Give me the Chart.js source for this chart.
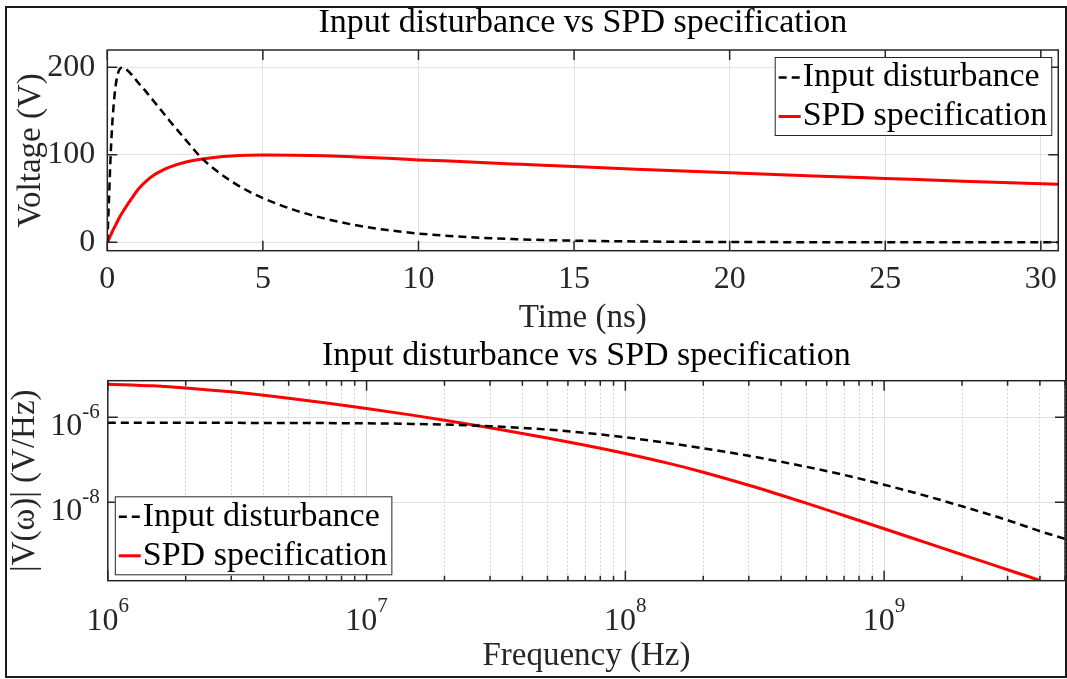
<!DOCTYPE html>
<html>
<head>
<meta charset="utf-8">
<script src="https://cdn.jsdelivr.net/npm/chart.js@4.4.1/dist/chart.umd.min.js"></script>
<style>
  html, body { margin: 0; padding: 0; background: #fff; }
  #fig { position: relative; width: 1067px; height: 679px; overflow: hidden; }
  #frame { position: absolute; left: 5px; top: 6px; width: 1058px; height: 668px; border: 2px solid #1a1a1a; }
  .pane { position: absolute; left: 0; width: 1067px; }
</style>
</head>
<body>
<div id="fig">
  <div id="frame"></div>
  <div class="pane" style="top:0;height:335px"><canvas id="timeChart"></canvas></div>
  <div class="pane" style="top:332px;height:347px"><canvas id="freqChart"></canvas></div>
</div>
<script>
// ---- data ----
var seriesNames = ["Input disturbance", "SPD specification"];
var chartTitle = "Input disturbance vs SPD specification";

// time domain (ns, V)
var timeNs = [0, 0.05, 0.1, 0.15, 0.2, 0.25, 0.3, 0.35, 0.4, 0.5, 0.6, 0.8, 1, 1.25, 1.5, 1.75, 2, 2.5, 3, 3.5, 4, 4.5, 5,
  6, 7, 8, 9, 10, 11, 12, 13, 14, 15, 17, 20, 22.5, 25, 27.5, 30.56];
var inputTimeV = [0, 45, 93, 130, 155, 174, 186, 194, 198, 200, 198, 191, 182, 172, 161, 150, 139, 118, 97.5, 82, 69.5, 59, 50.5,
  37, 27, 19.5, 14, 10, 7.2, 5.1, 3.7, 2.6, 1.9, 1.0, 0.35, 0.15, 0.07, 0.04, 0.02];
var spdTimeV = [0, 3.5, 7.5, 11.5, 15, 18.5, 22, 25.5, 29, 35, 40.5, 51, 61, 70, 77, 82, 86, 91.5, 95, 97.3, 98.7, 99.5, 99.8,
  99.6, 98.8, 97.5, 96, 94.2, 92.8, 91.2, 89.6, 88, 86.5, 83.6, 79.5, 76.2, 73, 69.8, 66.3];
var timeTicks = [0, 5, 10, 15, 20, 25, 30];
var voltTicks = [0, 100, 200];

// frequency domain (Hz, V/Hz)
var freqHz = [1e6, 1.5e6, 2e6, 3e6, 5e6, 7e6, 1e7, 1.5e7, 2e7, 3e7, 5e7, 7e7, 1e8, 1.5e8, 2e8, 3e8, 5e8, 7e8,
  1e9, 1.5e9, 2e9, 3e9, 4e9, 5e9];
var inputFreqV = [7.46e-7, 7.45e-7, 7.43e-7, 7.4e-7, 7.35e-7, 7.3e-7, 7.21e-7, 7.0e-7, 6.76e-7, 6.19e-7, 5.14e-7, 4.31e-7,
  3.38e-7, 2.43e-7, 1.87e-7, 1.24e-7, 6.85e-8, 4.4e-8, 2.59e-8, 1.34e-8, 8.05e-9, 3.8e-9, 2.09e-9, 1.38e-9];
var spdFreqV = [6.03e-6, 5.5e-6, 4.92e-6, 3.98e-6, 2.82e-6, 2.17e-6, 1.61e-6, 1.125e-6, 8.55e-7, 5.68e-7, 3.25e-7, 2.2e-7,
  1.41e-7, 8.02e-8, 5.11e-8, 2.52e-8, 9.55e-9, 4.9e-9, 2.39e-9, 1.05e-9, 5.87e-10, 2.59e-10, 1.45e-10, null];
var freqMajor = [1e6, 1e7, 1e8, 1e9];
var magTicks = [1e-8, 1e-6];

// ---- styling ----
var FONT = "'Liberation Serif', 'Times New Roman', serif";
var INK = '#262626';
var GRID = '#e2e2e2';

function pts(xs, ys) {
  return xs.map(function (x, i) { return { x: x, y: ys[i] }; });
}

function makeSets(xs, a, b) {
  return [{
    label: seriesNames[0], data: pts(xs, a),
    borderColor: '#000', borderWidth: 2.5, borderDash: [8, 5],
    pointRadius: 0, cubicInterpolationMode: 'monotone', fill: false
  }, {
    label: seriesNames[1], data: pts(xs, b),
    borderColor: '#ff0000', borderWidth: 3,
    pointRadius: 0, cubicInterpolationMode: 'monotone', fill: false
  }];
}

// box around the axes with inward ticks, like MATLAB "box on"
var axesBox = {
  id: 'axesBox',
  afterDatasetsDraw: function (chart) {
    var ctx = chart.ctx, a = chart.chartArea, xs = chart.scales.x, ys = chart.scales.y;
    ctx.save();
    ctx.strokeStyle = INK;
    ctx.lineWidth = 1.5;
    ctx.beginPath();
    xs.ticks.forEach(function (t) {
      var px = xs.getPixelForValue(t.value);
      var len = t.minor ? 5 : 10;
      ctx.moveTo(px, a.bottom); ctx.lineTo(px, a.bottom - len);
      ctx.moveTo(px, a.top); ctx.lineTo(px, a.top + len);
    });
    ys.ticks.forEach(function (t) {
      var py = ys.getPixelForValue(t.value);
      ctx.moveTo(a.left, py); ctx.lineTo(a.left + 10, py);
      ctx.moveTo(a.right, py); ctx.lineTo(a.right - 10, py);
    });
    ctx.stroke();
    ctx.strokeRect(a.left, a.top, a.right - a.left, a.bottom - a.top);
    ctx.restore();
  }
};

// legend drawn inside the axes with a frame
var boxLegend = {
  id: 'boxLegend',
  afterDraw: function (chart, args, opts) {
    var ctx = chart.ctx, a = chart.chartArea, sets = chart.data.datasets;
    var sample = 22, gap = 2, row = 39;
    ctx.save();
    ctx.font = '34px ' + FONT;
    var tw = 0;
    sets.forEach(function (d) { tw = Math.max(tw, ctx.measureText(d.label).width); });
    var w = 4 + sample + gap + tw + 4, h = sets.length * row;
    var x0 = opts.corner === 'tr' ? a.right - opts.dx - w : a.left + opts.dx;
    var y0 = opts.corner === 'tr' ? a.top + opts.dy : a.bottom - opts.dy - h;
    ctx.fillStyle = '#fff';
    ctx.fillRect(x0, y0, w, h);
    ctx.strokeStyle = INK;
    ctx.lineWidth = 1;
    ctx.strokeRect(x0 + 0.5, y0 + 0.5, w, h);
    sets.forEach(function (d, i) {
      var cy = y0 + row * (i + 0.5) + 1;
      ctx.strokeStyle = d.borderColor;
      ctx.lineWidth = d.borderWidth;
      ctx.setLineDash(d.borderDash || []);
      ctx.beginPath();
      ctx.moveTo(x0 + 4, cy); ctx.lineTo(x0 + 4 + sample, cy);
      ctx.stroke();
      ctx.setLineDash([]);
      ctx.fillStyle = '#000';
      ctx.textAlign = 'left';
      ctx.textBaseline = 'middle';
      ctx.fillText(d.label, x0 + 4 + sample + gap, cy);
    });
    ctx.restore();
  }
};

// 10^n tick labels with raised exponents
var powerLabels = {
  id: 'powerLabels',
  afterDraw: function (chart) {
    var ctx = chart.ctx, a = chart.chartArea, xs = chart.scales.x, ys = chart.scales.y;
    var base = '32px ' + FONT, sup = '21px ' + FONT;
    ctx.save();
    ctx.fillStyle = INK;
    ctx.textAlign = 'left';
    ctx.textBaseline = 'alphabetic';
    function piece(v) {
      var e = String(Math.round(Math.log10(v)));
      ctx.font = base; var wb = ctx.measureText('10').width;
      ctx.font = sup; var we = ctx.measureText(e).width;
      return { e: e, wb: wb, we: we };
    }
    xs.ticks.forEach(function (t) {
      if (t.minor) return;
      var p = piece(t.value), px = xs.getPixelForValue(t.value);
      var left = px - (p.wb + p.we) / 2;
      ctx.font = base; ctx.fillText('10', left, a.bottom + 49);
      ctx.font = sup; ctx.fillText(p.e, left + p.wb, a.bottom + 31);
    });
    ys.ticks.forEach(function (t) {
      var p = piece(t.value), py = ys.getPixelForValue(t.value);
      var left = a.left - 8 - (p.wb + p.we);
      ctx.font = base; ctx.fillText('10', left, py + 18);
      ctx.font = sup; ctx.fillText(p.e, left + p.wb, py + 1);
    });
    ctx.restore();
  }
};

function titleOpts(text, padTop, padBottom) {
  return {
    display: true, text: text, fullSize: false, color: '#000',
    font: { family: FONT, size: 34, weight: 'normal', lineHeight: 1 },
    padding: { top: padTop, bottom: padBottom }
  };
}

function axisTitle(text, padTop, padBottom) {
  return {
    display: true, text: text, color: INK,
    font: { family: FONT, size: 33, lineHeight: 1 },
    padding: { top: padTop, bottom: padBottom }
  };
}

// ---- top: time domain ----
new Chart(document.getElementById('timeChart'), {
  type: 'line',
  data: { datasets: makeSets(timeNs, inputTimeV, spdTimeV) },
  plugins: [axesBox, boxLegend],
  options: {
    responsive: true,
    maintainAspectRatio: false,
    animation: false,
    events: [],
    layout: { padding: { left: 0, right: 2, top: 0, bottom: 0 } },
    plugins: {
      legend: { display: false },
      tooltip: { enabled: false },
      title: titleOpts(chartTitle, 6.3, 9.7),
      boxLegend: { corner: 'tr', dx: 7, dy: 7 }
    },
    scales: {
      x: {
        type: 'linear', min: 0, max: 30.56,
        afterBuildTicks: function (s) { s.ticks = timeTicks.map(function (v) { return { value: v }; }); },
        afterFit: function (s) { s.height = 84.3; },
        grid: { color: GRID, drawTicks: false },
        border: { display: false },
        ticks: { autoSkip: false, maxRotation: 0, padding: 10, color: INK, font: { family: FONT, size: 32 },
          callback: function (v) { return String(v); } },
        title: axisTitle('Time (ns)', 0, 0.5)
      },
      y: {
        type: 'linear', min: -9.6, max: 219.8,
        afterBuildTicks: function (s) { s.ticks = voltTicks.map(function (v) { return { value: v }; }); },
        afterFit: function (s) { s.width = 107.3; },
        grid: { color: GRID, drawTicks: false },
        border: { display: false },
        ticks: { autoSkip: false, padding: 12, color: INK, font: { family: FONT, size: 32 },
          callback: function (v) { return String(v); } },
        title: axisTitle('Voltage (V)', 14.5, 0)
      }
    }
  }
});

// ---- bottom: frequency domain ----
function logGrid(lo, hi) {
  var out = [];
  for (var e = Math.floor(Math.log10(lo)); e <= Math.ceil(Math.log10(hi)); e++) {
    for (var m = 1; m <= 9; m++) {
      var v = m * Math.pow(10, e);
      if (v >= lo * 0.999 && v <= hi * 1.001) out.push({ value: v, minor: freqMajor.indexOf(v) < 0 });
    }
  }
  return out;
}

new Chart(document.getElementById('freqChart'), {
  type: 'line',
  data: { datasets: makeSets(freqHz, inputFreqV, spdFreqV) },
  plugins: [axesBox, boxLegend, powerLabels],
  options: {
    responsive: true,
    maintainAspectRatio: false,
    animation: false,
    events: [],
    layout: { padding: { left: 0, right: 2, top: 0, bottom: 0 } },
    plugins: {
      legend: { display: false },
      tooltip: { enabled: false },
      title: titleOpts(chartTitle, 6.7, 8),
      boxLegend: { corner: 'bl', dx: 7, dy: 6.4 }
    },
    scales: {
      x: {
        type: 'logarithmic', min: 1e6, max: 5e9,
        afterBuildTicks: function (s) { s.ticks = logGrid(1e6, 5e9); },
        afterFit: function (s) { s.height = 98.3; },
        grid: {
          drawTicks: false,
          color: function (c) { return c.tick && c.tick.minor ? '#cfcfcf' : '#dcdcdc'; }
        },
        border: {
          display: false,
          dash: function (c) { return c.tick && c.tick.minor ? [2, 2] : []; }
        },
        ticks: { display: false, autoSkip: false },
        title: axisTitle('Frequency (Hz)', 0, 6.5)
      },
      y: {
        type: 'logarithmic', min: 1.43e-10, max: 7.26e-6,
        afterBuildTicks: function (s) { s.ticks = magTicks.map(function (v) { return { value: v }; }); },
        afterFit: function (s) { s.width = 107.8; },
        grid: { color: GRID, drawTicks: false },
        border: { display: false },
        ticks: { display: false, autoSkip: false },
        title: axisTitle('|V(\u03c9)| (V/Hz)', 8.5, 0)
      }
    }
  }
});
</script>
</body>
</html>
